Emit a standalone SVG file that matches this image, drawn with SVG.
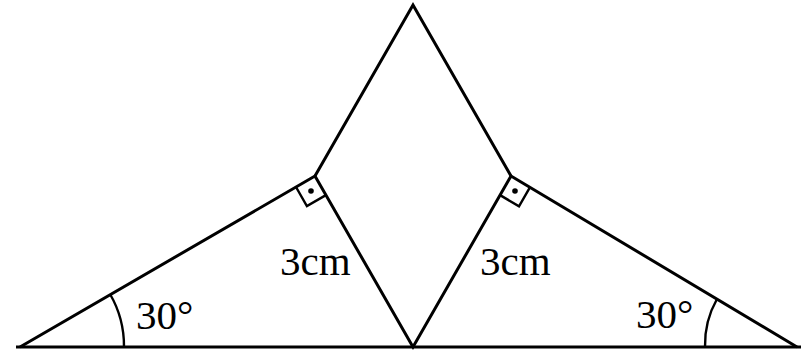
<svg xmlns="http://www.w3.org/2000/svg" width="801" height="352" viewBox="0 0 801 352">
<style>
.ln{stroke:#000;stroke-width:3;fill:none;stroke-linejoin:miter}
.mk{stroke:#000;stroke-width:2.4;fill:none}
.t{font-family:"Liberation Serif",serif;font-size:41px;fill:#000}
</style>
<rect width="801" height="352" fill="#fff"/>
<g id="connectors">
<line class="ln" x1="16" y1="347" x2="801" y2="347" stroke-width="3.4"/>
<polyline class="ln" points="20,347 315,176 413,347 511,176 797,347"/>
<polyline class="ln" points="315,176 413,5 511,176"/>
</g>
<g id="angle-left">
<path class="mk" d="M110,294 A104,104 0 0 1 124,347"/>
<text class="t" x="136" y="329">30°</text>
</g>
<g id="angle-right">
<path class="mk" d="M717,299 A93,93 0 0 0 705,347"/>
<text class="t" x="636" y="328">30°</text>
</g>
<g id="right-angle-left">
<polyline class="mk" points="296,187 306.9,206.1 325.9,195.1"/>
<circle cx="311" cy="191" r="2.8" fill="#000"/>
<text class="t" x="280" y="275">3cm</text>
</g>
<g id="right-angle-right">
<polyline class="mk" points="500.1,195.1 519,206.4 529.9,187.3"/>
<circle cx="515" cy="191" r="2.8" fill="#000"/>
<text class="t" x="480" y="275">3cm</text>
</g>
</svg>
